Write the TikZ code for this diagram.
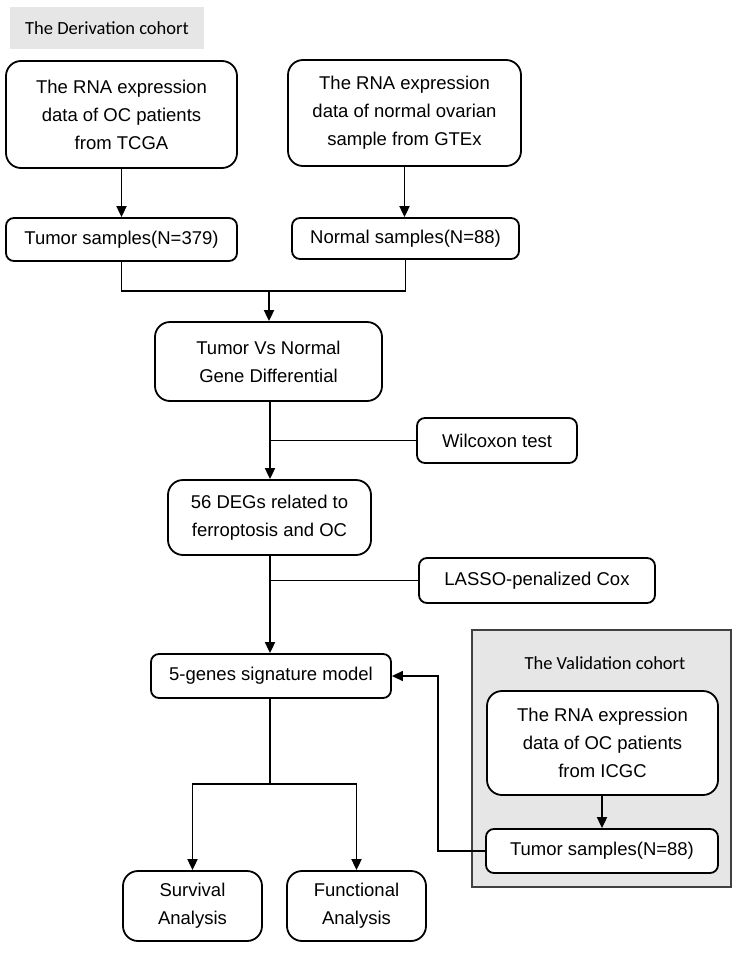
\documentclass[tikz,border=0pt]{standalone}
\usepackage{fontspec}
\setmainfont{Liberation Sans}
\newfontfamily\calfont{Carlito}
\usetikzlibrary{arrows.meta}
\definecolor{lightgray}{HTML}{E6E6E6}
\definecolor{framegray}{HTML}{404040}
\begin{document}
\begin{tikzpicture}[x=1pt,y=-1pt,
  box/.style={draw=black,line width=1.8pt,rounded corners=15pt,fill=white,inner sep=0pt,align=center,
    font=\fontsize{18.5}{28}\selectfont},
  sbox/.style={box,rounded corners=8pt},
  conn/.style={line width=1.8pt,draw=black},
  arr/.style={conn,-{Triangle[width=10pt,length=11pt]}},
  thin/.style={line width=1.4pt,draw=black},
  tarr/.style={thin,-{Triangle[width=10pt,length=11pt]}}]
\useasboundingbox (0,0) rectangle (736,953);
% derivation label
\node[fill=lightgray,minimum width=194pt,minimum height=42pt,inner sep=0pt,font=\calfont\fontsize{18.5}{22}\selectfont] (der) at (107,28) {The Derivation cohort};
% validation frame
\node[fill=lightgray,draw=framegray,line width=1.8pt,minimum width=259pt,minimum height=257pt,inner sep=0pt] (val) at (601.5,758.5) {};
\node[font=\calfont\fontsize{18.5}{22}\selectfont,inner sep=0pt] (valt) at (605,663) {The Validation cohort};
% boxes
\node[box,minimum width=231pt,minimum height=107pt] (A) at (121.5,114.5) {The RNA expression\\data of OC patients\\from TCGA};
\node[box,minimum width=233pt,minimum height=106pt] (B) at (404.5,113) {The RNA expression\\data of normal ovarian\\sample from GTEx};
\node[sbox,minimum width=231pt,minimum height=43pt] (T1) at (121.5,239.5) {Tumor samples(N=379)};
\node[sbox,minimum width=227pt,minimum height=41pt] (N1) at (405.5,238.5) {Normal samples(N=88)};
\node[box,minimum width=227pt,minimum height=79pt] (TvN) at (268.5,361.5) {Tumor Vs Normal\\Gene Differential};
\node[sbox,minimum width=160pt,minimum height=45pt] (W) at (497,440.5) {Wilcoxon test};
\node[box,minimum width=203pt,minimum height=75pt] (DEG) at (269.5,517.5) {56 DEGs related to\\ferroptosis and OC};
\node[sbox,minimum width=236pt,minimum height=45pt] (L) at (537,580.5) {LASSO-penalized Cox};
\node[sbox,minimum width=240pt,minimum height=44pt] (G5) at (271,676) {5-genes signature model};
\node[box,minimum width=139pt,minimum height=70pt] (S) at (192.5,906) {Survival\\Analysis};
\node[box,minimum width=139pt,minimum height=70pt] (F) at (356.5,906) {Functional\\Analysis};
\node[box,minimum width=231pt,minimum height=104pt] (I) at (602.5,743) {The RNA expression\\data of OC patients\\from ICGC};
\node[sbox,minimum width=232pt,minimum height=44pt] (T2) at (602,851) {Tumor samples(N=88)};
% connectors
\coordinate (m) at (269,291);
\coordinate (j1) at (270,441);
\coordinate (j2) at (270,581);
\coordinate (b) at (270,784);
\coordinate (fb) at (438,851);
\draw[arr] (A.south) -- (T1.north);
\draw[arr] (B.south) -- (B.south |- N1.north);
\draw[conn] (T1.south) |- (m) -| (N1.south);
\draw[arr] (m) -- (m |- TvN.north);
\draw[arr] (TvN.south -| j1) -- (j1 |- DEG.north);
\draw[conn] (W.west) -- (W.west -| j1);
\draw[arr] (DEG.south -| j2) -- (j2 |- G5.north);
\draw[conn] (L.west) -- (L.west -| j2);
\draw[conn] (G5.south -| b) -- (b);
\draw[arr] (b) -| (S.north);
\draw[arr] (b) -| (F.north);
\draw[arr] (I.south -| 602,0) -- (602,0 |- T2.north);
\draw[tarr] (T2.west) -- (fb) |- (G5.east);
\end{tikzpicture}
\end{document}
